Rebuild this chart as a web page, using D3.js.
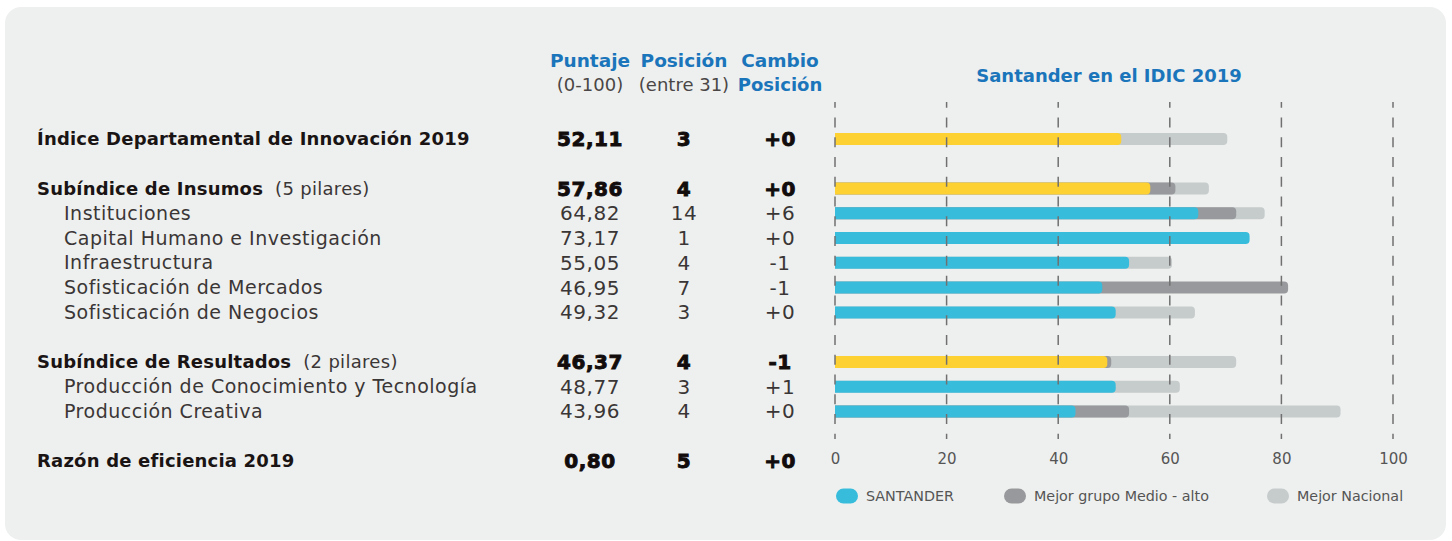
<!DOCTYPE html>
<html>
<head>
<meta charset="utf-8">
<script src="https://cdn.jsdelivr.net/npm/d3@7"></script>
<style>
  body { margin: 0; background: #ffffff; }
  svg { display: block; }
</style>
</head>
<body>
<div id="chart"></div>
<script>
// row data, top to bottom
let row_labels = [
    "Índice Departamental de Innovación 2019",
    "Subíndice de Insumos",
    "Instituciones",
    "Capital Humano e Investigación",
    "Infraestructura",
    "Sofisticación de Mercados",
    "Sofisticación de Negocios",
    "Subíndice de Resultados",
    "Producción de Conocimiento y Tecnología",
    "Producción Creativa",
    "Razón de eficiencia 2019"
];
let row_notes = ["", "(5 pilares)", "", "", "", "", "", "(2 pilares)", "", "", ""];
let row_level = ["main", "main", "pilar", "pilar", "pilar", "pilar", "pilar", "main", "pilar", "pilar", "main"];
let scores = ["52,11", "57,86", "64,82", "73,17", "55,05", "46,95", "49,32", "46,37", "48,77", "43,96", "0,80"];
let positions = ["3", "4", "14", "1", "4", "7", "3", "4", "3", "4", "5"];
let changes = ["+0", "+0", "+6", "+0", "-1", "-1", "+0", "-1", "+1", "+0", "+0"];

// bar lengths (0-100)
let santander_vals = [51.3, 56.5, 65.1, 74.3, 52.7, 47.9, 50.3, 48.8, 50.3, 43.1, null];
let grupo_vals     = [null, 61.0, 71.9, null, null, 81.2, null, 49.5, null, 52.7, null];
let nacional_vals  = [70.3, 67.0, 77.0, null, 60.4, null, 64.5, 71.9, 61.8, 90.6, null];

// row slots, with blank spacer rows between the groups
let row_slots = ["r0", "s1", "r1", "r2", "r3", "r4", "r5", "r6", "s2", "r7", "r8", "r9", "s3", "r10"];

let x_ticks = [0, 20, 40, 60, 80, 100];

let legend_items = ["SANTANDER", "Mejor grupo Medio - alto", "Mejor Nacional"];

let color_map = {
    "main": "#fdd132",
    "pilar": "#38bcdc",
    "grupo": "#98999c",
    "nacional": "#c6cbcc"
};

let chart_width = 1452;
let chart_height = 541;
let font = "'DejaVu Sans', sans-serif";
let blue = "#1b75bb";

let svg = d3.select("#chart")
    .append("svg")
    .attr("width", chart_width)
    .attr("height", chart_height);

svg.append("rect")
    .attr("x", 5)
    .attr("y", 7)
    .attr("width", 1441)
    .attr("height", 533)
    .attr("rx", 16)
    .attr("fill", "#eef0ef");

let xScale = d3.scaleLinear()
    .domain([0, 100])
    .range([835, 1393]);

let yScale = d3.scalePoint()
    .domain(row_slots)
    .range([139, 461]);

let rows = row_labels.map(function(d, i) {
    return {
        "label": d,
        "note": row_notes[i],
        "level": row_level[i],
        "score": scores[i],
        "pos": positions[i],
        "change": changes[i],
        "santander": santander_vals[i],
        "grupo": grupo_vals[i],
        "nacional": nacional_vals[i],
        "y": yScale("r" + i)
    };
});

// headers
let headers = [
    {"x": 590, "l1": "Puntaje", "l2": "(0-100)", "blue2": false},
    {"x": 684, "l1": "Posición", "l2": "(entre 31)", "blue2": false},
    {"x": 780, "l1": "Cambio", "l2": "Posición", "blue2": true}
];

let head = svg.append("g");
head.selectAll(".h1")
    .data(headers)
    .enter()
    .append("text")
    .attr("x", function(d) { return d.x; })
    .attr("y", 67)
    .attr("text-anchor", "middle")
    .style("font-family", font)
    .style("font-weight", "bold")
    .style("font-size", "18.5px")
    .attr("fill", blue)
    .text(function(d) { return d.l1; });

head.selectAll(".h2")
    .data(headers)
    .enter()
    .append("text")
    .attr("x", function(d) { return d.x; })
    .attr("y", 91)
    .attr("text-anchor", "middle")
    .style("font-family", font)
    .style("font-weight", function(d) { return d.blue2 ? "bold" : "normal"; })
    .style("font-size", "18px")
    .attr("fill", function(d) { return d.blue2 ? blue : "#4a4646"; })
    .text(function(d) { return d.l2; });

svg.append("text")
    .attr("x", 1109)
    .attr("y", 82)
    .attr("text-anchor", "middle")
    .style("font-family", font)
    .style("font-weight", "bold")
    .style("font-size", "18px")
    .attr("fill", blue)
    .text("Santander en el IDIC 2019");

// bars: flat at zero, rounded at the end
function bar_path(v, y) {
    let h = 12;
    let r = 4;
    let x0 = xScale(0);
    let x1 = xScale(v);
    let top = y - h / 2;
    return "M" + x0 + "," + top +
        "H" + (x1 - r) +
        "Q" + x1 + "," + top + " " + x1 + "," + (top + r) +
        "V" + (top + h - r) +
        "Q" + x1 + "," + (top + h) + " " + (x1 - r) + "," + (top + h) +
        "H" + x0 + "Z";
}

let bars = svg.append("g");
let layers = ["nacional", "grupo", "santander"];
for (let layer of layers) {
    bars.selectAll(".bar_" + layer)
        .data(rows.filter(function(d) { return d[layer] != null; }))
        .enter()
        .append("path")
        .attr("class", "bar_" + layer)
        .attr("d", function(d) { return bar_path(d[layer], d.y); })
        .attr("fill", function(d) {
            return layer == "santander" ? color_map[d.level] : color_map[layer];
        });
}

// dashed grid on top of the bars
svg.append("g")
    .selectAll("line")
    .data(x_ticks)
    .enter()
    .append("line")
    .attr("x1", function(d) { return xScale(d); })
    .attr("x2", function(d) { return xScale(d); })
    .attr("y1", 102)
    .attr("y2", 439)
    .attr("stroke", "#707070")
    .attr("stroke-width", 1.5)
    .attr("stroke-dasharray", "10,9.77")
    .attr("stroke-dashoffset", 4.3);

let x_axis = svg.append("g")
    .attr("transform", "translate(0,452)")
    .call(d3.axisBottom(xScale).tickValues(x_ticks).tickSize(0).tickPadding(0));
x_axis.select(".domain").remove();
x_axis.selectAll("text")
    .attr("dy", "0.35em")
    .attr("y", 7)
    .style("font-family", font)
    .style("font-size", "15px")
    .attr("fill", "#555555");

// left labels
let labels = svg.append("g");
let label_text = labels.selectAll("text")
    .data(rows)
    .enter()
    .append("text")
    .attr("x", function(d) { return d.level == "main" ? 37 : 64; })
    .attr("y", function(d) { return d.y; })
    .attr("dy", "0.35em")
    .style("font-family", font)
    .style("font-size", function(d) { return d.level == "main" ? "18px" : "19px"; })
    .style("letter-spacing", function(d) { return d.level == "main" ? "0.2px" : "0.5px"; })
    .style("font-weight", function(d) { return d.level == "main" ? "bold" : "normal"; })
    .attr("fill", function(d) { return d.level == "main" ? "#1a1414" : "#3b3636"; });

label_text.append("tspan")
    .text(function(d) { return d.label; });

label_text.append("tspan")
    .attr("dx", 12)
    .style("font-weight", "normal")
    .style("font-size", "18px")
    .style("letter-spacing", "0.3px")
    .attr("fill", "#3b3636")
    .text(function(d) { return d.note; });

// number columns
let columns = [
    {"key": "score", "x": 590},
    {"key": "pos", "x": 684},
    {"key": "change", "x": 780}
];

for (let col of columns) {
    svg.append("g")
        .selectAll("text")
        .data(rows)
        .enter()
        .append("text")
        .attr("x", col.x)
        .attr("y", function(d) { return d.y; })
        .attr("dy", "0.35em")
        .attr("text-anchor", "middle")
        .style("font-family", font)
        .style("font-size", "20px")
        .style("letter-spacing", "0.5px")
        .style("font-weight", function(d) { return d.level == "main" ? "bold" : "normal"; })
        .attr("fill", function(d) { return d.level == "main" ? "#120c0c" : "#3b3636"; })
        .attr("stroke", function(d) { return d.level == "main" ? "#120c0c" : "none"; })
        .attr("stroke-width", 0.9)
        .text(function(d) { return d[col.key]; });
}

// legend
let legend_x = [836, 1004, 1267];
let legend_colors = [color_map["pilar"], color_map["grupo"], color_map["nacional"]];

let legend = svg.selectAll(".legend")
    .data(legend_items)
    .enter()
    .append("g")
    .attr("class", "legend")
    .attr("transform", function(d, i) { return "translate(" + legend_x[i] + ",496)"; });

legend.append("rect")
    .attr("x", 0)
    .attr("y", -7.5)
    .attr("width", 22)
    .attr("height", 15)
    .attr("rx", 7.5)
    .attr("fill", function(d, i) { return legend_colors[i]; });

legend.append("text")
    .attr("x", 30)
    .attr("y", 0)
    .attr("dy", "0.35em")
    .style("font-family", font)
    .style("font-size", "14.3px")
    .attr("fill", "#555555")
    .text(function(d) { return d; });
</script>
</body>
</html>
